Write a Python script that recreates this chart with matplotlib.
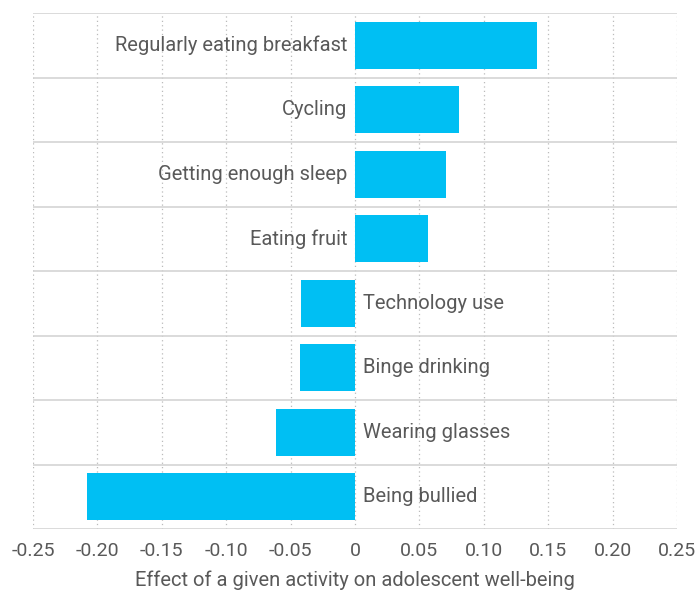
import matplotlib.pyplot as plt
import numpy as np

categories = ['Regularly eating breakfast', 'Cycling', 'Getting enough sleep', 'Eating fruit',
              'Technology use', 'Binge drinking', 'Wearing glasses', 'Being bullied']
effects = [0.141, 0.081, 0.071, 0.057, -0.042, -0.043, -0.061, -0.208]
xticks = [-0.25, -0.20, -0.15, -0.10, -0.05, 0, 0.05, 0.10, 0.15, 0.20, 0.25]
xtick_labels = ['-0.25', '-0.20', '-0.15', '-0.10', '-0.05', '0', '0.05', '0.10', '0.15', '0.20', '0.25']

BAR_COLOR = '#00BFF3'
TEXT_COLOR = '#595959'

plt.rcParams['font.family'] = ['Roboto', 'DejaVu Sans']

fig = plt.figure(figsize=(6.97, 5.94), dpi=100)
ax = fig.add_axes([0.0473, 0.1094, 0.924, 0.8687])

y_pos = np.arange(len(categories))
ax.barh(y_pos, effects, height=0.73, color=BAR_COLOR, zorder=3)

ax.set_xlim(-0.25, 0.25)
ax.set_ylim(len(categories) - 0.5, -0.5)

# row separators
for b in np.arange(len(categories) + 1) - 0.5:
    ax.axhline(b, color='#d4d4d4', linewidth=1.2, zorder=1)
# vertical dotted grid
for t in xticks:
    ax.axvline(t, color='#bbbbbb', linestyle=(0, (1, 2.5)), linewidth=0.9, zorder=0)

for y, (name, v) in enumerate(zip(categories, effects)):
    if v >= 0:
        ax.text(-0.006, y, name, ha='right', va='center', fontsize=14.5,
                color=TEXT_COLOR, zorder=4)
    else:
        ax.text(0.006, y, name, ha='left', va='center', fontsize=14.5,
                color=TEXT_COLOR, zorder=4)

ax.set_yticks([])
ax.set_xticks(xticks)
ax.set_xticklabels(xtick_labels, fontsize=14, color=TEXT_COLOR)
ax.tick_params(axis='x', length=0, pad=9)
for s in ax.spines.values():
    s.set_visible(False)

ax.set_xlabel('Effect of a given activity on adolescent well-being', fontsize=14.5,
              color=TEXT_COLOR, labelpad=8)

plt.savefig('out.png', dpi=100)
